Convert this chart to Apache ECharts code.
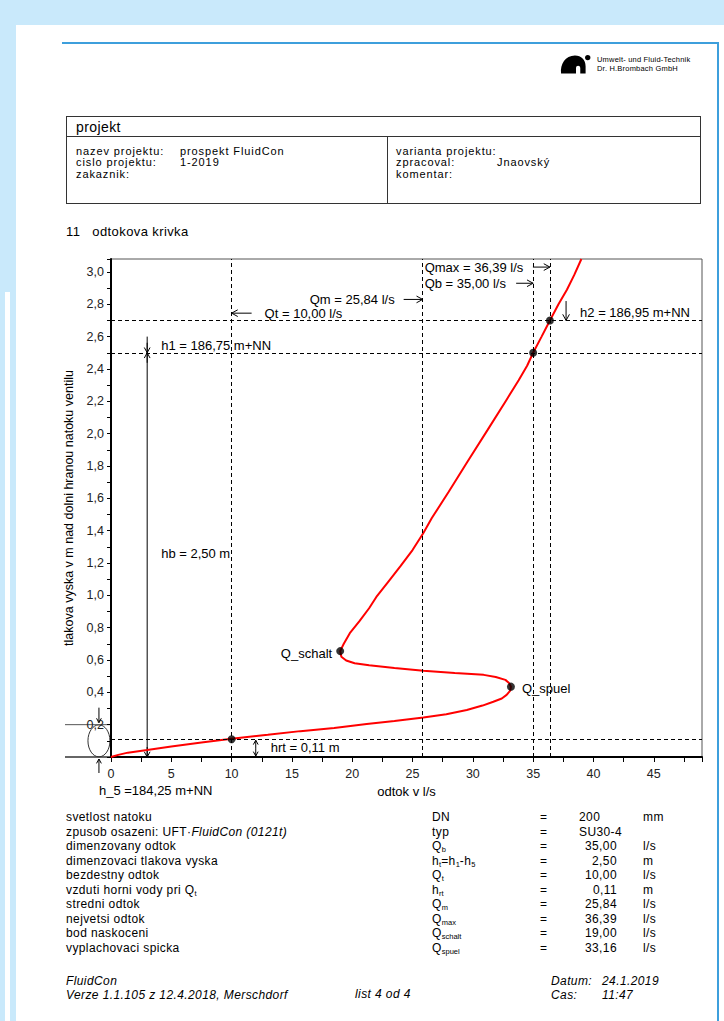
<!DOCTYPE html>
<html>
<head>
<meta charset="utf-8">
<title>odtokova krivka</title>
<script src="https://cdn.jsdelivr.net/npm/echarts@6/dist/echarts.min.js"></script>
<style>
body{margin:0;width:724px;height:1021px;position:relative;background:#fff;overflow:hidden;
  font-family:"Liberation Sans",Arial,sans-serif;color:#000;font-size:12px;letter-spacing:0.4px}
.a{position:absolute;white-space:nowrap;line-height:13px}
.p{font-size:11px;line-height:11.3px;letter-spacing:0.9px}
sub{font-size:7.5px;vertical-align:-2px;line-height:0;letter-spacing:0}
#chart{position:absolute;left:0;top:240px;width:724px;height:570px;letter-spacing:0}
</style>
</head>
<body>
<!-- okraj stranky -->
<div class="a" style="left:0;top:0;width:724px;height:25px;background:#c9e9fb"></div>
<div class="a" style="left:0;top:25px;width:16px;height:996px;background:#c9e9fb"></div>
<div class="a" style="left:5px;top:292px;width:5px;height:729px;background:#fff"></div>
<div class="a" style="left:62px;top:42px;width:656px;height:2px;background:#3d9fdc"></div>
<div class="a" style="left:717px;top:42px;width:2px;height:979px;background:#3d9fdc"></div>

<!-- logo -->
<svg class="a" style="left:560px;top:53px" width="32" height="22" viewBox="0 0 30 20">
  <path d="M1,19 C0,10 5,2 14,2 C20,2 24,6 24,12 L24,19 L19,19 L19,14 C19,11 15,11 15,14 L15,19 Z" fill="#000"/>
  <circle cx="26" cy="4" r="2.5" fill="#000"/>
</svg>
<div class="a" style="left:597px;top:55px;font-size:7.5px;line-height:9px;letter-spacing:0.2px">Umwelt- und Fluid-Technik<br>Dr. H.Brombach GmbH</div>

<!-- projekt -->
<div class="a" style="left:66px;top:116px;width:633px;height:86px;border:1px solid #333"></div>
<div class="a" style="left:66px;top:136px;width:634px;height:1px;background:#333"></div>
<div class="a" style="left:387px;top:136px;width:1px;height:67px;background:#333"></div>
<div class="a" style="left:76px;top:120px;font-size:14px;line-height:15px">projekt</div>
<div class="a p" style="left:76px;top:146px">nazev projektu:<br>cislo projektu:<br>zakaznik:</div>
<div class="a p" style="left:180px;top:146px">prospekt FluidCon<br>1-2019</div>
<div class="a p" style="left:396px;top:146px">varianta projektu:<br>zpracoval:<br>komentar:</div>
<div class="a p" style="left:497px;top:157.3px">Jnaovský</div>

<div class="a" style="left:66px;top:225px;font-size:13px;line-height:14px">11&nbsp;&nbsp;&nbsp;odtokova krivka</div>

<div id="chart"></div>

<!-- parametry -->
<div class="a" style="left:66px;top:810px;line-height:14.5px">
svetlost natoku<br>
zpusob osazeni: UFT·<i>FluidCon (0121t)</i><br>
dimenzovany odtok<br>
dimenzovaci tlakova vyska<br>
bezdestny odtok<br>
vzduti horni vody pri Q<sub>t</sub><br>
stredni odtok<br>
nejvetsi odtok<br>
bod naskoceni<br>
vyplachovaci spicka</div>
<div class="a" style="left:432px;top:810px;line-height:14.5px">
DN<br>typ<br>Q<sub>b</sub><br>h<sub>t</sub>=h<sub>1</sub>-h<sub>5</sub><br>Q<sub>t</sub><br>h<sub>rt</sub><br>Q<sub>m</sub><br>Q<sub>max</sub><br>Q<sub>schalt</sub><br>Q<sub>spuel</sub></div>
<div class="a" style="left:540px;top:810px;line-height:14.5px">=<br>=<br>=<br>=<br>=<br>=<br>=<br>=<br>=<br>=</div>
<div class="a" style="left:579px;top:810px;line-height:14.5px">200<br>SU30-4</div>
<div class="a" style="left:550px;top:839px;width:67px;text-align:right;line-height:14.5px">
35,00<br>2,50<br>10,00<br>0,11<br>25,84<br>36,39<br>19,00<br>33,16</div>
<div class="a" style="left:643px;top:810px;line-height:14.5px">mm<br><br>l/s<br>m<br>l/s<br>m<br>l/s<br>l/s<br>l/s<br>l/s</div>

<!-- paticka -->
<div class="a" style="left:66px;top:975px;font-style:italic;line-height:13.5px">FluidCon<br>Verze 1.1.105 z 12.4.2018, Merschdorf</div>
<div class="a" style="left:355px;top:988px;font-style:italic;line-height:13.5px">list 4 od 4</div>
<div class="a" style="left:551px;top:975px;font-style:italic;line-height:13.5px">Datum:<br>Cas:</div>
<div class="a" style="left:602px;top:975px;font-style:italic;line-height:13.5px">24.1.2019<br>11:47</div>

<script>
// odtokova krivka (odtok l/s, vyska m)
var curveQ = [0, 0.6, 1.4, 3, 5, 7.5, 10, 13, 15.7, 18.5, 21.2, 23.5, 25.9, 27.8, 29.5, 30.8, 31.7,
  32.4, 32.8, 33.1, 33.16, 33.0, 32.7, 31.9, 30.9, 28.5, 25.9, 23.5, 21.4, 20.2, 19.5, 19.1, 19.0,
  19.3, 19.8, 20.6, 21.4, 22.0, 23.0, 24.0, 25.0, 25.9, 26.6, 28.0, 29.5, 31.2, 32.8, 33.8, 34.5,
  35.0, 35.7, 36.39, 37.1, 37.8, 38.4, 39.0];
var curveH = [0, 0.013, 0.027, 0.043, 0.065, 0.09, 0.113, 0.137, 0.16, 0.18, 0.204, 0.222, 0.245,
  0.265, 0.291, 0.318, 0.342, 0.362, 0.384, 0.41, 0.435, 0.458, 0.477, 0.495, 0.508, 0.52, 0.534,
  0.55, 0.567, 0.58, 0.597, 0.62, 0.655, 0.7, 0.766, 0.84, 0.92, 0.99, 1.085, 1.18, 1.28, 1.385,
  1.478, 1.64, 1.82, 2.02, 2.21, 2.33, 2.42, 2.5, 2.6, 2.7, 2.8, 2.89, 2.98, 3.08];
// body: Qb/h1, Qmax/h2, Qt/hrt, Q_schalt, Q_spuel
var pointQ = [35, 36.39, 10, 19.0, 33.16];
var pointH = [2.5, 2.7, 0.11, 0.655, 0.435];
// pomocne cary
var vLines = [10, 25.84, 35, 36.39];
var hLines = [0.11, 2.5, 2.7];
var xMax = 49, yMax = 3.08;

var font = '"Liberation Sans", Arial, sans-serif';
var chart = echarts.init(document.getElementById('chart'), null, {renderer: 'svg'});

var option = {
  animation: false,
  textStyle: {fontFamily: font},
  grid: {left: 111, right: 22, top: 19, bottom: 53, show: true, borderColor: '#555', borderWidth: 1},
  xAxis: {
    type: 'value', min: 0, max: xMax, interval: 5,
    name: 'odtok v l/s', nameLocation: 'middle', nameGap: 26,
    nameTextStyle: {fontSize: 13, color: '#000', fontFamily: font},
    axisLine: {lineStyle: {color: '#000', width: 2}},
    axisTick: {length: 5, lineStyle: {color: '#000'}},
    minorTick: {show: true, splitNumber: 2, length: 5, lineStyle: {color: '#000'}},
    axisLabel: {fontSize: 12.5, color: '#222', margin: 10, showMaxLabel: false, fontFamily: font},
    splitLine: {show: false}
  },
  yAxis: {
    type: 'value', min: 0, max: yMax, interval: 0.2,
    name: 'tlakova vyska v m nad dolni hranou natoku ventilu', nameLocation: 'middle', nameGap: 31,
    nameTextStyle: {fontSize: 12.5, color: '#000', fontFamily: font},
    axisLine: {lineStyle: {color: '#000', width: 2}},
    axisTick: {length: 4, lineStyle: {color: '#000'}},
    minorTick: {show: true, splitNumber: 2, length: 4, lineStyle: {color: '#000'}},
    axisLabel: {
      fontSize: 12.5, color: '#222', margin: 7, showMaxLabel: false, fontFamily: font,
      formatter: function (v) { return v === 0 ? '' : v.toFixed(1).replace('.', ','); }
    },
    splitLine: {show: false}
  },
  series: [{
    type: 'line',
    data: curveQ.map(function (q, i) { return [q, curveH[i]]; }),
    showSymbol: false,
    lineStyle: {color: '#ff0000', width: 2},
    z: 3,
    markLine: {
      silent: true, symbol: 'none', label: {show: false},
      lineStyle: {color: '#000', width: 1, type: [4, 3]},
      data: vLines.map(function (v) { return {xAxis: v}; })
        .concat(hLines.map(function (v) { return {yAxis: v}; }))
    }
  }, {
    type: 'scatter',
    data: pointQ.map(function (q, i) { return [q, pointH[i]]; }),
    symbolSize: 8,
    itemStyle: {color: '#000'},
    z: 4
  }]
};
chart.setOption(option);

// popisky - poloha z datovych souradnic
function px(x, y) { return chart.convertToPixel({gridIndex: 0}, [x, y]); }
var ink = {stroke: '#000', lineWidth: 1, fill: null};
function txt(x, y, s, align) {
  return {type: 'text', x: x, y: y, silent: true,
    style: {text: s, fill: '#000', font: '13px ' + font, align: align || 'left', verticalAlign: 'middle'}};
}
function arrow(x1, y1, x2, y2, h) {
  h = h || 5;
  var a = Math.atan2(y2 - y1, x2 - x1);
  var p1 = [x2 - h * Math.cos(a - 0.5), y2 - h * Math.sin(a - 0.5)];
  var p2 = [x2 - h * Math.cos(a + 0.5), y2 - h * Math.sin(a + 0.5)];
  return [
    {type: 'line', silent: true, shape: {x1: x1, y1: y1, x2: x2, y2: y2}, style: ink},
    {type: 'polyline', silent: true, shape: {points: [p1, [x2, y2], p2]}, style: ink}
  ];
}

var g = [];
var xQm = px(25.84, 0)[0], xQb = px(35, 0)[0], xQmax = px(36.39, 0)[0], xQt = px(10, 0)[0];
var yQmax = px(0, 3.03)[1], yQb = px(0, 2.93)[1], yQm = px(0, 2.83)[1], yQt = px(0, 2.745)[1];
g.push(txt(xQm + 2, yQmax, 'Qmax = 36,39 l/s'));
g = g.concat(arrow(xQmax - 17, yQmax, xQmax, yQmax, 7));
g.push(txt(xQm + 2, yQb, 'Qb = 35,00 l/s'));
g = g.concat(arrow(xQb - 17, yQb, xQb, yQb, 7));
g.push(txt(xQm - 28, yQm, 'Qm = 25,84 l/s', 'right'));
g = g.concat(arrow(xQm - 19, yQm, xQm, yQm, 7));
g.push(txt(xQt + 33, yQt, 'Qt = 10,00 l/s'));
g = g.concat(arrow(xQt + 20, yQt, xQt, yQt, 7));

// h2
var h2 = px(37.73, 2.7), h2t = px(37.73, 2.82);
g = g.concat(arrow(h2[0], h2t[1], h2[0], h2[1], 7));
g.push(txt(h2[0] + 14, px(0, 2.75)[1], 'h2 = 186,95 m+NN'));

// h1 / hb kota
var h1 = px(3, 2.5), hTop = px(3, 2.6), h0 = px(3, 0);
g.push({type: 'line', silent: true, shape: {x1: h1[0], y1: hTop[1], x2: h0[0], y2: h0[1]}, style: ink});
g = g.concat(arrow(h1[0], h1[1] - 10, h1[0], h1[1], 6));
g = g.concat(arrow(h1[0], h1[1] + 10, h1[0], h1[1], 6));
g = g.concat(arrow(h0[0], h0[1] - 10, h0[0], h0[1], 6));
g.push(txt(h1[0] + 14, px(0, 2.545)[1], 'h1 = 186,75 m+NN'));
g.push(txt(h1[0] + 14, px(0, 1.257)[1], 'hb = 2,50 m'));

// Q_schalt, Q_spuel
var ps = px(pointQ[3], pointH[3]), pp = px(pointQ[4], pointH[4]);
g.push(txt(ps[0] - 8, ps[1] + 2, 'Q_schalt', 'right'));
g.push(txt(pp[0] + 11, pp[1] + 2, 'Q_spuel'));

// hrt
var r0 = px(12, 0), r1 = px(12, 0.11);
g = g.concat(arrow(r0[0], (r0[1] + r1[1]) / 2, r0[0], r1[1] + 1, 5));
g = g.concat(arrow(r0[0], (r0[1] + r1[1]) / 2, r0[0], r0[1] - 1, 5));
g.push(txt(r0[0] + 15, px(0, 0.06)[1], 'hrt = 0,11 m'));

// h5 znacka
var o = px(0, 0), e = px(-1, 0.1), l2 = px(0, 0.2);
g.push({type: 'ellipse', silent: true, shape: {cx: e[0], cy: e[1], rx: 11, ry: 16}, style: {stroke: '#333', lineWidth: 1, fill: null}});
g.push({type: 'line', silent: true, shape: {x1: o[0] - 46, y1: o[1], x2: o[0], y2: o[1]}, style: {stroke: '#333', lineWidth: 1.5}});
g.push({type: 'line', silent: true, shape: {x1: o[0] - 46, y1: l2[1], x2: o[0], y2: l2[1]}, style: {stroke: '#555', lineWidth: 1}});
g = g.concat(arrow(e[0], l2[1] - 17, e[0], l2[1] - 2, 5));
g = g.concat(arrow(e[0], o[1] + 16, e[0], o[1] + 2, 5));
g.push(txt(e[0], o[1] + 33, 'h_5 =184,25 m+NN'));

chart.setOption({graphic: {elements: g}});
</script>
</body>
</html>
